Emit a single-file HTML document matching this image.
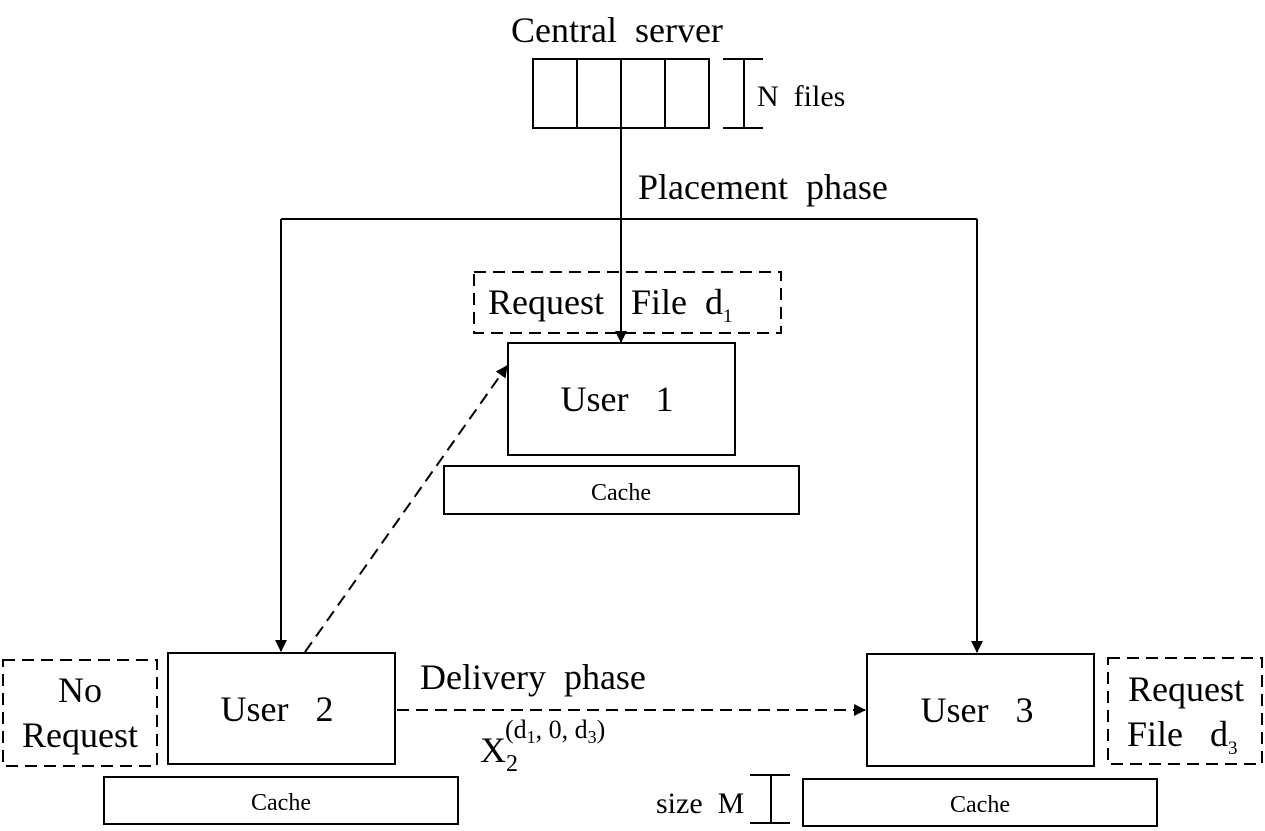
<!DOCTYPE html>
<html><head><style>html,body{margin:0;padding:0;background:#fff}svg{display:block}text{white-space:pre}</style></head><body>
<svg width="1265" height="831" viewBox="0 0 1265 831" xmlns="http://www.w3.org/2000/svg" font-family="'Liberation Serif', serif" fill="none" stroke="#000" stroke-width="2">
<defs><marker id="a" markerWidth="12" markerHeight="12" refX="11" refY="6" orient="auto" markerUnits="userSpaceOnUse"><path d="M0,0 L12,6 L0,12 z" fill="#000" stroke="none"/></marker></defs>
<g font-size="36" fill="#000" stroke="none">
<text x="511" y="42">Central  server</text>
<text x="638" y="199">Placement  phase</text>
<text x="488" y="314">Request   File  d<tspan font-size="19" dy="8">1</tspan></text>
<text x="617" y="411" text-anchor="middle">User   1</text>
<text x="277" y="721" text-anchor="middle">User   2</text>
<text x="977" y="722" text-anchor="middle">User   3</text>
<text x="80" y="702" text-anchor="middle">No</text>
<text x="80" y="747" text-anchor="middle">Request</text>
<text x="1186" y="701" text-anchor="middle">Request</text>
<text x="1127" y="746">File   d<tspan font-size="19" dy="8">3</tspan></text>
<text x="420" y="689">Delivery  phase</text>
<text x="480" y="762">X<tspan font-size="24" dy="9">2</tspan><tspan font-size="26" dx="-13" dy="-33">(d</tspan><tspan font-size="18" dy="5">1</tspan><tspan font-size="26" dy="-5">, 0, d</tspan><tspan font-size="18" dy="5">3</tspan><tspan font-size="26" dy="-5">)</tspan></text>
</g>
<g font-size="30" fill="#000" stroke="none"><text x="757" y="106">N  files</text><text x="656" y="813">size  M</text></g>
<g font-size="24" fill="#000" stroke="none" text-anchor="middle">
<text x="621" y="500">Cache</text><text x="281" y="810">Cache</text><text x="980" y="812">Cache</text></g>
<rect x="533" y="59" width="176" height="69"/>
<path d="M577,59V128M621,59V128M665,59V128"/>
<path d="M723,59H763M723,128H763M744,59V128"/>
<path d="M621,128V342" marker-end="url(#a)"/>
<path d="M281,219H977"/>
<path d="M281,219V651" marker-end="url(#a)"/>
<path d="M977,219V652" marker-end="url(#a)"/>
<rect x="474" y="272" width="307" height="61" stroke-dasharray="12,7"/>
<rect x="508" y="343" width="227" height="112"/>
<rect x="444" y="466" width="355" height="48"/>
<path d="M305,652L507,366" stroke-dasharray="12,7" marker-end="url(#a)"/>
<rect x="168" y="653" width="227" height="111"/>
<rect x="3" y="660" width="154" height="106" stroke-dasharray="12,7"/>
<rect x="104" y="777" width="354" height="47"/>
<path d="M397,710H865" stroke-dasharray="12,7" marker-end="url(#a)"/>
<rect x="867" y="654" width="227" height="112"/>
<rect x="1108" y="658" width="154" height="106" stroke-dasharray="12,7"/>
<rect x="803" y="779" width="354" height="47"/>
<path d="M750,775H790M750,823H790M771,775V823"/>
</svg>
</body></html>
